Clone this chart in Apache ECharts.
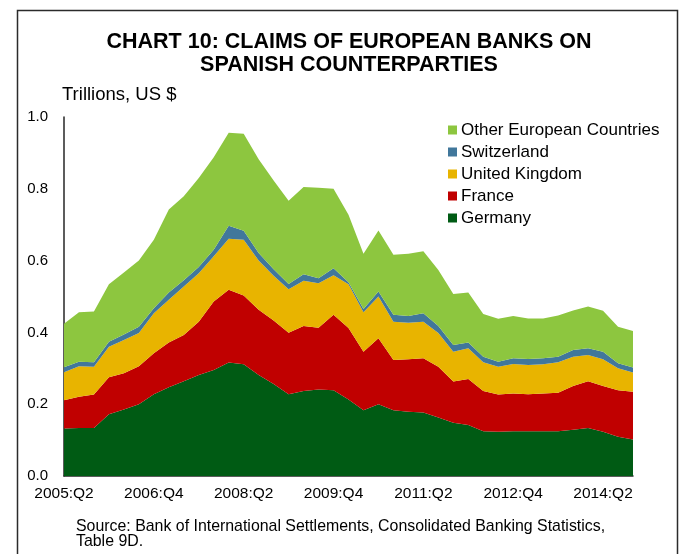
<!DOCTYPE html>
<html>
<head>
<meta charset="utf-8">
<script src="https://cdn.jsdelivr.net/npm/echarts@6/dist/echarts.min.js"></script>
<style>
  html, body { margin: 0; padding: 0; background: #fff; }
  #chart { width: 681px; height: 554px; }
</style>
</head>
<body>
<div id="chart"></div>
<script>
// Quarterly claims, trillions of US dollars
const quarters = [
  '2005:Q2','2005:Q3','2005:Q4','2006:Q1','2006:Q2','2006:Q3','2006:Q4','2007:Q1',
  '2007:Q2','2007:Q3','2007:Q4','2008:Q1','2008:Q2','2008:Q3','2008:Q4','2009:Q1',
  '2009:Q2','2009:Q3','2009:Q4','2010:Q1','2010:Q2','2010:Q3','2010:Q4','2011:Q1',
  '2011:Q2','2011:Q3','2011:Q4','2012:Q1','2012:Q2','2012:Q3','2012:Q4','2013:Q1',
  '2013:Q2','2013:Q3','2013:Q4','2014:Q1','2014:Q2','2014:Q3','2014:Q4'
];

const germany = [
  0.132,0.134,0.134,0.172,0.185,0.200,0.228,0.247,0.264,0.281,0.295,0.316,0.311,
  0.281,0.256,0.228,0.237,0.241,0.239,0.213,0.183,0.200,0.183,0.179,0.177,0.163,
  0.148,0.142,0.125,0.123,0.125,0.125,0.125,0.125,0.129,0.134,0.123,0.109,0.102
];
const france = [
  0.079,0.087,0.093,0.103,0.101,0.106,0.114,0.125,0.129,0.149,0.191,0.203,0.192,
  0.182,0.177,0.171,0.181,0.172,0.210,0.199,0.163,0.184,0.140,0.146,0.151,0.141,
  0.115,0.128,0.112,0.104,0.105,0.103,0.105,0.107,0.122,0.130,0.128,0.130,0.133
];
const unitedKingdom = [
  0.078,0.085,0.077,0.085,0.093,0.092,0.111,0.119,0.135,0.135,0.126,0.142,0.155,
  0.137,0.125,0.121,0.126,0.124,0.110,0.122,0.110,0.116,0.107,0.102,0.102,0.094,
  0.083,0.086,0.080,0.077,0.082,0.081,0.081,0.085,0.081,0.073,0.074,0.061,0.053
];
const switzerland = [
  0.014,0.012,0.013,0.014,0.015,0.018,0.014,0.020,0.017,0.017,0.018,0.036,0.025,
  0.021,0.018,0.015,0.018,0.014,0.020,0.006,0.009,0.014,0.019,0.019,0.023,0.020,
  0.019,0.016,0.015,0.014,0.016,0.017,0.017,0.015,0.019,0.019,0.021,0.014,0.014
];
const otherEurope = [
  0.121,0.138,0.141,0.160,0.173,0.184,0.191,0.231,0.234,0.248,0.258,0.259,0.270,
  0.261,0.247,0.232,0.243,0.252,0.221,0.188,0.154,0.170,0.167,0.173,0.173,0.156,
  0.142,0.139,0.119,0.120,0.118,0.113,0.111,0.115,0.110,0.116,0.114,0.102,0.102
];

const seriesNames = ['Germany', 'France', 'United Kingdom', 'Switzerland', 'Other European Countries'];
const seriesValues = [germany, france, unitedKingdom, switzerland, otherEurope];
const seriesColors = ['#005B14', '#C00000', '#E8B400', '#41779B', '#8DC63F'];
const yTicks = [0, 0.2, 0.4, 0.6, 0.8, 1.0];

const FONT = '"Liberation Sans", Arial, sans-serif';

const chart = echarts.init(document.getElementById('chart'), null, { renderer: 'canvas' });

chart.setOption({
  backgroundColor: '#ffffff',
  animation: false,
  title: {
    text: 'CHART 10: CLAIMS OF EUROPEAN BANKS ON\nSPANISH COUNTERPARTIES',
    left: 344,
    top: 26,
    textAlign: 'center',
    textStyle: {
      fontFamily: FONT,
      fontWeight: 'bold',
      fontSize: 21.5,
      lineHeight: 23,
      color: '#000'
    }
  },
  legend: {
    data: seriesNames.slice().reverse(),
    orient: 'vertical',
    left: 443,
    top: 116,
    icon: 'rect',
    itemWidth: 9,
    itemHeight: 9,
    itemGap: 4,
    textStyle: {
      fontFamily: FONT,
      fontSize: 17,
      color: '#000',
      padding: [0, 0, 0, -1],
      lineHeight: 18
    }
  },
  grid: {
    left: 64,
    right: 48,
    top: 117,
    bottom: 78,
    containLabel: false
  },
  xAxis: {
    type: 'category',
    data: quarters,
    boundaryGap: false,
    axisLine: { show: true, lineStyle: { color: '#262626', width: 1.5 } },
    axisTick: { show: false },
    axisLabel: {
      interval: 5,
      fontFamily: FONT,
      fontSize: 15.5,
      color: '#000',
      margin: 10
    },
    splitLine: { show: false }
  },
  yAxis: {
    type: 'value',
    min: yTicks[0],
    max: yTicks[yTicks.length - 1],
    interval: 0.2,
    axisLine: { show: true, lineStyle: { color: '#262626', width: 1.5 } },
    axisTick: { show: false },
    splitLine: { show: false },
    axisLabel: {
      fontFamily: FONT,
      fontSize: 15,
      color: '#000',
      margin: 16,
      formatter: v => v.toFixed(1)
    }
  },
  series: seriesNames.map((name, k) => ({
    name: name,
    type: 'line',
    stack: 'claims',
    data: seriesValues[k],
    symbol: 'none',
    lineStyle: { width: 0 },
    itemStyle: { color: seriesColors[k] },
    areaStyle: { color: seriesColors[k], opacity: 1 },
    z: 2
  })),
  graphic: [
    {
      type: 'rect',
      shape: { x: 17.5, y: 10.5, width: 660, height: 560 },
      style: { fill: 'none', stroke: '#2b2b2b', lineWidth: 1.5 },
      silent: true,
      z: 10
    },
    {
      type: 'text',
      left: 62,
      top: 85,
      style: {
        text: 'Trillions, US $',
        font: '18.5px ' + FONT,
        fill: '#000'
      }
    },
    {
      type: 'text',
      left: 76,
      top: 519,
      style: {
        text: 'Source: Bank of International Settlements, Consolidated Banking Statistics,\nTable 9D.',
        font: '15.9px ' + FONT,
        lineHeight: 15,
        fill: '#000'
      }
    }
  ]
});
</script>
</body>
</html>
